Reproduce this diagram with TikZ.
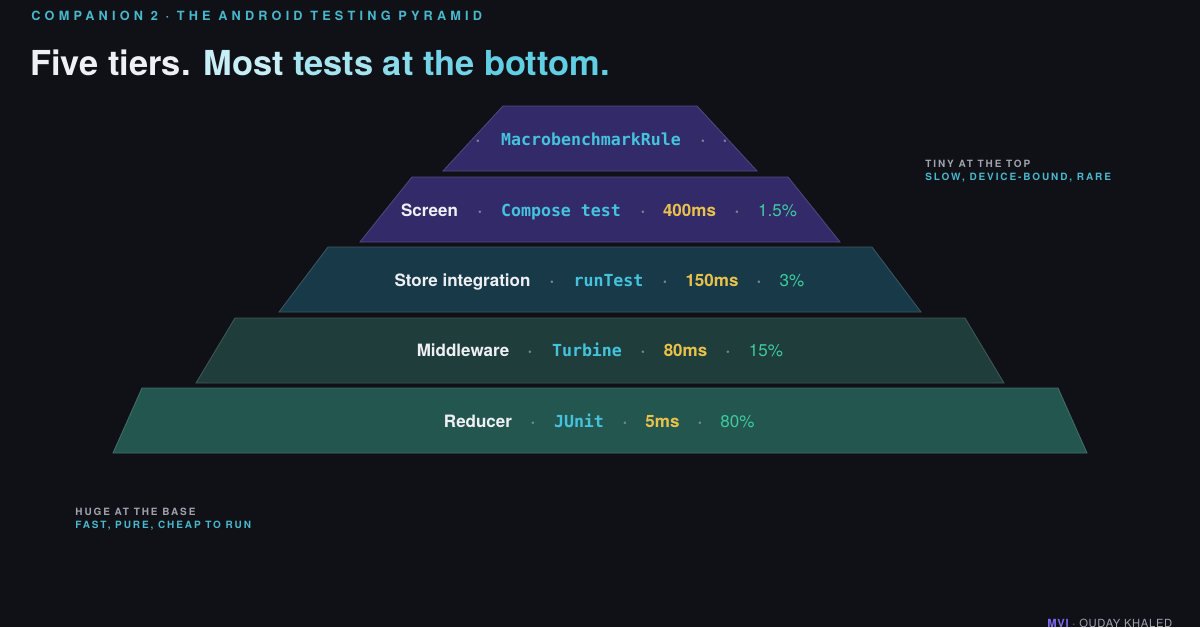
\documentclass[tikz,border=0pt]{standalone}
\usepackage{fontspec}
\setmainfont{TeX Gyre Heros}
\newfontfamily\monofam{DejaVu Sans Mono}
\definecolor{bg}{HTML}{101117}
\definecolor{tpurple}{HTML}{322A69}
\definecolor{tblue}{HTML}{183A48}
\definecolor{tdgreen}{HTML}{1E3D3B}
\definecolor{tgreen}{HTML}{245650}
\definecolor{wtext}{HTML}{EEF0F4}
\definecolor{cyantext}{HTML}{45C3DD}
\definecolor{yeltext}{HTML}{E9C24C}
\definecolor{grntext}{HTML}{3ECB9E}
\definecolor{dotc}{HTML}{7E8496}
\definecolor{hdr}{HTML}{48B8CC}
\definecolor{greylbl}{HTML}{A0A4AE}
\definecolor{mvi}{HTML}{7C6CF5}
\definecolor{ga}{HTML}{C8EFF6}
\definecolor{gb}{HTML}{A6E4F0}
\definecolor{gc}{HTML}{8ADCEC}
\definecolor{gd}{HTML}{74D4E7}
\definecolor{ge}{HTML}{62CEE3}
\tikzset{
  tier/.style={draw=#1!85!white, line width=0.4pt, fill=#1},
  lbl/.style={font=\bfseries\fontsize{8.5}{10}\selectfont, text=wtext, anchor=base, inner sep=0pt},
  code/.style={font=\monofam\bfseries\fontsize{8.3}{10}\selectfont, text=cyantext, anchor=base, inner sep=0pt},
  ms/.style={font=\bfseries\fontsize{8.5}{10}\selectfont, text=yeltext, anchor=base, inner sep=0pt},
  pct/.style={font=\fontsize{8.5}{10}\selectfont, text=grntext, anchor=base, inner sep=0pt},
  sep/.style={font=\bfseries\fontsize{8.5}{10}\selectfont, text=dotc, anchor=base, inner sep=0pt},
  sidea/.style={font=\bfseries\fontsize{5}{6}\selectfont\addfontfeature{LetterSpace=19}, text=greylbl, anchor=base west, inner sep=0pt},
  sideb/.style={font=\bfseries\fontsize{5}{6}\selectfont\addfontfeature{LetterSpace=19}, text=hdr, anchor=base west, inner sep=0pt},
}
\begin{document}
\begin{tikzpicture}[x=0.5pt,y=-0.5pt]
\useasboundingbox (0,0) rectangle (1200,627);
\fill[bg] (0,0) rectangle (1200,627);
\clip (0,0) rectangle (1200,627);

% header and title
\node[font=\bfseries\fontsize{6.35}{7}\selectfont\addfontfeature{LetterSpace=33}, text=hdr, anchor=base west, inner sep=0pt] (header) at (31,20.5) {COMPANION 2 · THE ANDROID TESTING PYRAMID};
\node[font=\bfseries\fontsize{17.2}{20}\selectfont, anchor=base west, inner sep=0pt] (title) at (30,75)
  {\textcolor{wtext}{Five tiers.} \textcolor{ga}{Most} \textcolor{gb}{tests} \textcolor{gc}{at} \textcolor{gd}{the} \textcolor{ge}{bottom.}};

% tiers
\draw[tier=tpurple] (503,106) -- (697,106) -- (757,171) -- (443,171) -- cycle;
\draw[tier=tpurple] (412,177) -- (788,177) -- (840,242) -- (360,242) -- cycle;
\draw[tier=tblue]   (328,247) -- (872,247) -- (921,312) -- (279,312) -- cycle;
\draw[tier=tdgreen] (235,318) -- (965,318) -- (1004,383) -- (196,383) -- cycle;
\draw[tier=tgreen]  (142,388) -- (1058,388) -- (1087,453) -- (113,453) -- cycle;

% tier 1
\node[sep]  (d10) at (478,145) {·};
\node[code] (c1)  at (591,145) {MacrobenchmarkRule};
\node[sep]  (d11) at (703,145) {·};
\node[sep]  (d12) at (725,145) {·};

% tier 2
\node[lbl]  (l2)  at (429.5,216) {Screen};
\node[sep]  (d20) at (480,216) {·};
\node[code] (c2)  at (561,216) {Compose test};
\node[sep]  (d21) at (643,216) {·};
\node[ms]   (m2)  at (689.5,216) {400ms};
\node[sep]  (d22) at (737,216) {·};
\node[pct]  (p2)  at (777.5,216) {1.5\%};

% tier 3
\node[lbl]  (l3)  at (462.5,286) {Store integration};
\node[sep]  (d30) at (552,286) {·};
\node[code] (c3)  at (608.5,286) {runTest};
\node[sep]  (d31) at (665,286) {·};
\node[ms]   (m3)  at (712,286) {150ms};
\node[sep]  (d32) at (759,286) {·};
\node[pct]  (p3)  at (792,286) {3\%};

% tier 4
\node[lbl]  (l4)  at (463,356) {Middleware};
\node[sep]  (d40) at (530,356) {·};
\node[code] (c4)  at (587,356) {Turbine};
\node[sep]  (d41) at (643,356) {·};
\node[ms]   (m4)  at (685.5,356) {80ms};
\node[sep]  (d42) at (728,356) {·};
\node[pct]  (p4)  at (766,356) {15\%};

% tier 5
\node[lbl]  (l5)  at (478,427) {Reducer};
\node[sep]  (d50) at (533,427) {·};
\node[code] (c5)  at (579,427) {JUnit};
\node[sep]  (d51) at (625,427) {·};
\node[ms]   (m5)  at (662.5,427) {5ms};
\node[sep]  (d52) at (700,427) {·};
\node[pct]  (p5)  at (737.5,427) {80\%};

% side notes
\node[sidea] (topa) at (925,167) {TINY AT THE TOP};
\node[sideb] (topb) at (925,180) {SLOW, DEVICE-BOUND, RARE};
\node[sidea] (basea) at (75,515) {HUGE AT THE BASE};
\node[sideb] (baseb) at (75,528) {FAST, PURE, CHEAP TO RUN};

% footer
\node[font=\fontsize{5.6}{7}\selectfont\addfontfeature{LetterSpace=6}, text=greylbl, anchor=base west, inner sep=0pt] (footer) at (1047,627.5)
  {\textcolor{mvi}{\bfseries MVI} · OUDAY KHALED};
\end{tikzpicture}
\end{document}
